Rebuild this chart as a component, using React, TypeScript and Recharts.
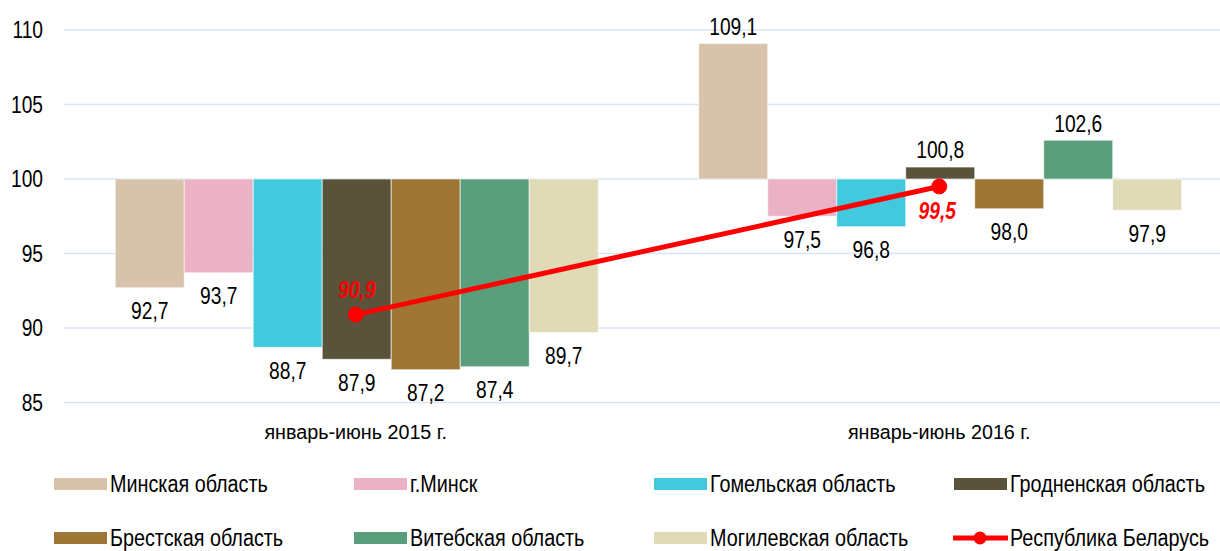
import React from "react";
import {
  ComposedChart,
  Bar,
  Line,
  XAxis,
  YAxis,
  CartesianGrid,
  LabelList,
} from "recharts";

const periods = ["январь-июнь 2015 г.", "январь-июнь 2016 г."];

const regions = [
  "Минская область",
  "г.Минск",
  "Гомельская область",
  "Гродненская область",
  "Брестская область",
  "Витебская область",
  "Могилевская область",
];

const minskRegion = [92.7, 109.1];
const minskCity = [93.7, 97.5];
const gomel = [88.7, 96.8];
const grodno = [87.9, 100.8];
const brest = [87.2, 98.0];
const vitebsk = [87.4, 102.6];
const mogilev = [89.7, 97.9];
const belarus = [90.9, 99.5];

const yTicks = [85, 90, 95, 100, 105, 110];
const BASE = 100;

const regionSeries = [minskRegion, minskCity, gomel, grodno, brest, vitebsk, mogilev];
const regionColors = [
  "#D6C3A9",
  "#EAB2C4",
  "#43C9DE",
  "#5A533B",
  "#9E7737",
  "#5B9E7B",
  "#DFDBB7",
];
const lineColor = "#FF0000";
const lineName = "Республика Беларусь";

// no narrow font installed, so squeeze Liberation Sans horizontally
const FONT = '"Liberation Sans", Arial, sans-serif';
const SQUEEZE = 0.8;

const fmt = (v: number) => v.toFixed(1).replace(".", ",");

// bars grow from 100 up or down
const data = periods.map((name, i) => {
  const row: Record<string, any> = { name, total: belarus[i] };
  regionSeries.forEach((s, k) => {
    row["r" + k] = [Math.min(BASE, s[i]), Math.max(BASE, s[i])];
  });
  return row;
});

function NText({ x, y, sx = SQUEEZE, anchor = "middle", size = 24, children, ...rest }: any) {
  return (
    <g transform={`translate(${x},${y}) scale(${sx},1)`}>
      <text
        x={0}
        y={0}
        textAnchor={anchor}
        dominantBaseline="central"
        fontFamily={FONT}
        fontSize={size}
        fill="#000"
        {...rest}
      >
        {children}
      </text>
    </g>
  );
}

const makeBarLabel = (values: number[]) => (props: any) => {
  const { x, y, width, height, index } = props;
  const v = values[index];
  const up = v >= BASE;
  const cy = up ? y - 17 : y + height + 23;
  return (
    <NText x={x + width / 2} y={cy}>
      {fmt(v)}
    </NText>
  );
};

const LineLabel = (props: any) => {
  const { x, y, index } = props;
  const v = belarus[index];
  const cy = index === 0 ? y - 25 : y + 24;
  const cx = index === 0 ? x + 1 : x - 2;
  return (
    <NText x={cx} y={cy} fontWeight="bold" fontStyle="italic" fill={lineColor}>
      {fmt(v)}
    </NText>
  );
};

const YTick = (props: any) => (
  <NText x={props.x} y={props.y} anchor="end">
    {props.payload.value}
  </NText>
);

const XTick = (props: any) => (
  <NText x={props.x} y={props.y + 23.5} size={21} sx={0.94}>
    {props.payload.value}
  </NText>
);

const ROW1 = 484;
const ROW2 = 538;

const legendItems = [
  { name: regions[0], color: regionColors[0], x: 54, y: ROW1 },
  { name: regions[1], color: regionColors[1], x: 354, y: ROW1 },
  { name: regions[2], color: regionColors[2], x: 654, y: ROW1 },
  { name: regions[3], color: regionColors[3], x: 954, y: ROW1 },
  { name: regions[4], color: regionColors[4], x: 54, y: ROW2 },
  { name: regions[5], color: regionColors[5], x: 354, y: ROW2 },
  { name: regions[6], color: regionColors[6], x: 654, y: ROW2 },
];

const legendRow: React.CSSProperties = {
  position: "absolute",
  height: 26,
  display: "flex",
  alignItems: "center",
  whiteSpace: "nowrap",
  fontFamily: FONT,
  fontSize: 23,
  color: "#000",
};

const legendText: React.CSSProperties = {
  display: "inline-block",
  transform: "scale(0.86,1)",
  transformOrigin: "left center",
};

function LegendBlock() {
  return (
    <>
      {legendItems.map((it) => (
        <div key={it.name} style={{ ...legendRow, left: it.x, top: it.y - 13 }}>
          <span
            style={{
              display: "inline-block",
              width: 53,
              height: 12,
              background: it.color,
              marginRight: 3,
            }}
          />
          <span style={legendText}>{it.name}</span>
        </div>
      ))}
      <div style={{ ...legendRow, left: 953, top: ROW2 - 13 }}>
        <svg width={55} height={16} style={{ marginRight: 2 }}>
          <line x1={0} y1={8} x2={55} y2={8} stroke={lineColor} strokeWidth={5} />
          <circle cx={27} cy={8} r={6.5} fill={lineColor} />
        </svg>
        <span style={legendText}>{lineName}</span>
      </div>
    </>
  );
}

export default function App() {
  return (
    <div
      style={{
        position: "absolute",
        left: 0,
        top: 0,
        width: 1220,
        height: 551,
        overflow: "hidden",
        background: "#fff",
      }}
    >
      <ComposedChart
        width={1240}
        height={551}
        data={data}
        margin={{ top: 30, right: 9, left: 0, bottom: 108.5 }}
        barCategoryGap="8.78%"
        barGap={0}
      >
        <CartesianGrid vertical={false} stroke="#DAE5F4" strokeWidth={1.5} />
        <XAxis
          dataKey="name"
          axisLine={false}
          tickLine={false}
          height={40}
          tickMargin={0}
          tick={XTick}
        />
        <YAxis
          domain={[85, 110]}
          ticks={yTicks}
          width={64}
          axisLine={false}
          tickLine={false}
          tickMargin={15}
          tick={YTick}
        />
        {regionSeries.map((s, k) => (
          <Bar
            key={regions[k]}
            dataKey={"r" + k}
            name={regions[k]}
            fill={regionColors[k]}
            stroke="rgba(255,255,255,0.6)"
            strokeWidth={1}
            isAnimationActive={false}
          >
            <LabelList content={makeBarLabel(s)} />
          </Bar>
        ))}
        <Line
          dataKey="total"
          name={lineName}
          stroke={lineColor}
          strokeWidth={5}
          dot={{ r: 7.5, fill: lineColor, stroke: lineColor, strokeWidth: 1 }}
          isAnimationActive={false}
        >
          <LabelList content={LineLabel} />
        </Line>
      </ComposedChart>
      <LegendBlock />
    </div>
  );
}
